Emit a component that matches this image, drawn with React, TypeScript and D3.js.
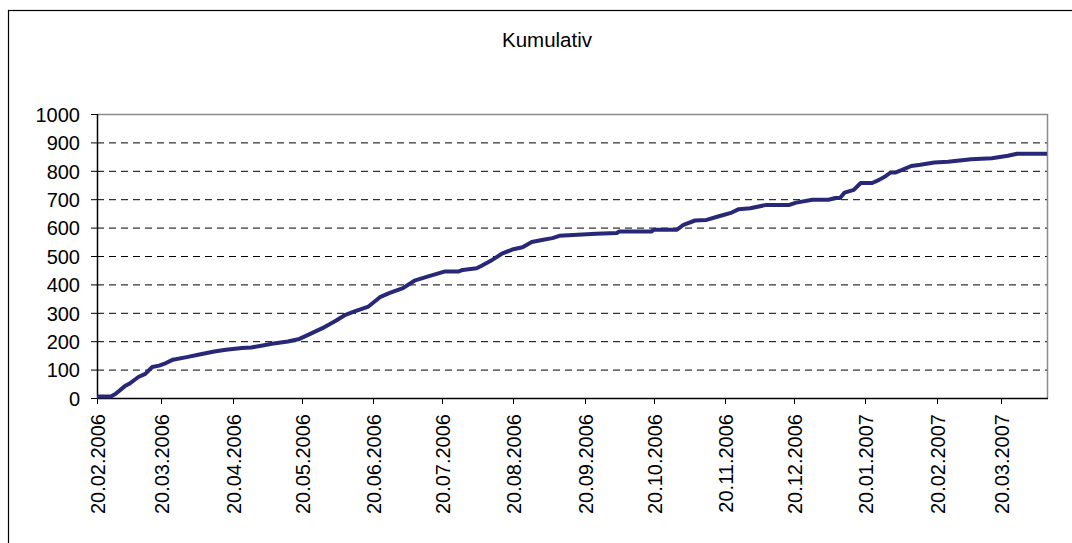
import React, { useEffect, useRef } from 'react';
import * as d3 from 'd3';

// dates (dd.mm.yyyy) and cumulative counts
const dates = [
  '20.02.2006', '26.02.2006', '28.02.2006', '04.03.2006', '06.03.2006', '10.03.2006',
  '13.03.2006', '16.03.2006', '19.03.2006', '22.03.2006', '25.03.2006', '31.03.2006',
  '05.04.2006', '12.04.2006', '17.04.2006', '24.04.2006', '28.04.2006', '03.05.2006',
  '07.05.2006', '14.05.2006', '19.05.2006', '23.05.2006', '29.05.2006', '04.06.2006',
  '08.06.2006', '12.06.2006', '18.06.2006', '23.06.2006', '27.06.2006', '03.07.2006',
  '08.07.2006', '14.07.2006', '21.07.2006', '27.07.2006', '29.07.2006', '04.08.2006',
  '06.08.2006', '11.08.2006', '15.08.2006', '20.08.2006', '24.08.2006', '28.08.2006',
  '02.09.2006', '06.09.2006', '09.09.2006', '25.09.2006', '04.10.2006', '05.10.2006',
  '19.10.2006', '20.10.2006', '30.10.2006', '02.11.2006', '07.11.2006', '12.11.2006',
  '17.11.2006', '23.11.2006', '26.11.2006', '01.12.2006', '08.12.2006', '18.12.2006',
  '21.12.2006', '28.12.2006', '04.01.2007', '07.01.2007', '09.01.2007', '11.01.2007',
  '15.01.2007', '18.01.2007', '23.01.2007', '26.01.2007', '29.01.2007', '31.01.2007',
  '02.02.2007', '05.02.2007', '09.02.2007', '13.02.2007', '19.02.2007', '25.02.2007',
  '07.03.2007', '16.03.2007', '23.03.2007', '27.03.2007', '09.04.2007'
];
const kumulativ = [
  5, 5, 14, 41, 50, 74,
  85, 109, 114, 123, 135, 144,
  152, 164, 170, 176, 178, 185,
  191, 199, 208, 223, 246, 273,
  293, 305, 322, 355, 369, 387,
  413, 428, 445, 445, 451, 457,
  465, 487, 508, 524, 531, 549,
  557, 563, 571, 578, 581, 586,
  586, 592, 592, 610, 625, 627,
  639, 653, 665, 668, 680, 680,
  688, 698, 698, 704, 704, 723,
  733, 757, 757, 768, 782, 794,
  794, 803, 817, 821, 829, 832,
  841, 844, 853, 860, 860
];
const yTicks = [0, 100, 200, 300, 400, 500, 600, 700, 800, 900, 1000];
const xTickLabels = [
  '20.02.2006', '20.03.2006', '20.04.2006', '20.05.2006', '20.06.2006', '20.07.2006',
  '20.08.2006', '20.09.2006', '20.10.2006', '20.11.2006', '20.12.2006', '20.01.2007',
  '20.02.2007', '20.03.2007'
];
const title = 'Kumulativ';

const parse = d3.timeParse('%d.%m.%Y');

export default function App() {
  const ref = useRef<SVGSVGElement>(null);

  useEffect(() => {
    const width = 1072;
    const height = 543;
    const svg = d3.select(ref.current);
    svg.selectAll('*').remove();

    const plot = { left: 97, right: 1047, top: 114, bottom: 398 };
    const font = "'Liberation Sans', Arial, sans-serif";

    // outer chart frame (runs off the right and bottom edge)
    svg.append('rect')
      .attr('x', 8.5).attr('y', 10.5)
      .attr('width', 1100).attr('height', 600)
      .attr('fill', '#fff').attr('stroke', '#000').attr('stroke-width', 1.2);

    svg.append('text')
      .attr('x', 547).attr('y', 47)
      .attr('text-anchor', 'middle')
      .attr('font-family', font).attr('font-size', 20.5)
      .attr('fill', '#000')
      .text(title);

    const x = d3.scaleTime()
      .domain([parse('20.02.2006') as Date, parse('09.04.2007') as Date])
      .range([plot.left, plot.right]);
    const y = d3.scaleLinear().domain([0, 1000]).range([plot.bottom, plot.top]);

    // gridlines
    svg.append('g').selectAll('line')
      .data(yTicks.filter(t => t > 0 && t < 1000))
      .enter().append('line')
      .attr('x1', plot.left).attr('x2', plot.right)
      .attr('y1', d => y(d) + 0.5).attr('y2', d => y(d) + 0.5)
      .attr('stroke', '#000').attr('stroke-width', 1)
      .attr('stroke-dasharray', '7,5');

    // plot area top/right border (grey)
    svg.append('path')
      .attr('d', `M${plot.left},${plot.top + 0.5}H${plot.right + 0.5}V${plot.bottom}`)
      .attr('fill', 'none').attr('stroke', '#8c8c8c').attr('stroke-width', 1.5);

    // y axis
    const yAxis = svg.append('g');
    yAxis.append('line')
      .attr('x1', plot.left + 0.5).attr('x2', plot.left + 0.5)
      .attr('y1', plot.top).attr('y2', plot.bottom)
      .attr('stroke', '#000').attr('stroke-width', 1.5);
    const yt = yAxis.selectAll('g.tick').data(yTicks).enter().append('g')
      .attr('transform', d => `translate(0,${y(d) + 0.5})`);
    yt.append('line')
      .attr('x1', plot.left - 6).attr('x2', plot.left)
      .attr('stroke', '#000').attr('stroke-width', 1);
    yt.append('text')
      .attr('x', 80).attr('dy', '0.36em')
      .attr('text-anchor', 'end')
      .attr('font-family', font).attr('font-size', 20)
      .attr('fill', '#000')
      .text(d => d);

    // x axis
    const xAxis = svg.append('g');
    xAxis.append('line')
      .attr('x1', plot.left).attr('x2', plot.right + 1)
      .attr('y1', plot.bottom + 0.5).attr('y2', plot.bottom + 0.5)
      .attr('stroke', '#000').attr('stroke-width', 1.5);
    const xt = xAxis.selectAll('g.tick').data(xTickLabels).enter().append('g')
      .attr('transform', d => `translate(${Math.round(x(parse(d) as Date)) + 0.5},0)`);
    xt.append('line')
      .attr('y1', plot.bottom).attr('y2', plot.bottom + 6)
      .attr('stroke', '#000').attr('stroke-width', 1);
    xt.append('text')
      .attr('transform', `translate(0,${plot.bottom + 16}) rotate(-90)`)
      .attr('dy', '0.35em')
      .attr('text-anchor', 'end')
      .attr('font-family', font).attr('font-size', 20)
      .attr('fill', '#000')
      .text(d => d);

    // series
    const data = dates.map((d, i) => ({ date: parse(d) as Date, value: kumulativ[i] }));
    const line = d3.line<{ date: Date; value: number }>()
      .x(d => x(d.date))
      .y(d => y(d.value));
    svg.append('path')
      .datum(data)
      .attr('d', line)
      .attr('fill', 'none')
      .attr('stroke', '#282878')
      .attr('stroke-width', 4)
      .attr('stroke-linejoin', 'round');

    svg.attr('width', width).attr('height', height);
  }, []);

  return (
    <div style={{ position: 'absolute', left: 0, top: 0 }}>
      <svg ref={ref} width={1072} height={543} style={{ display: 'block' }} />
    </div>
  );
}
